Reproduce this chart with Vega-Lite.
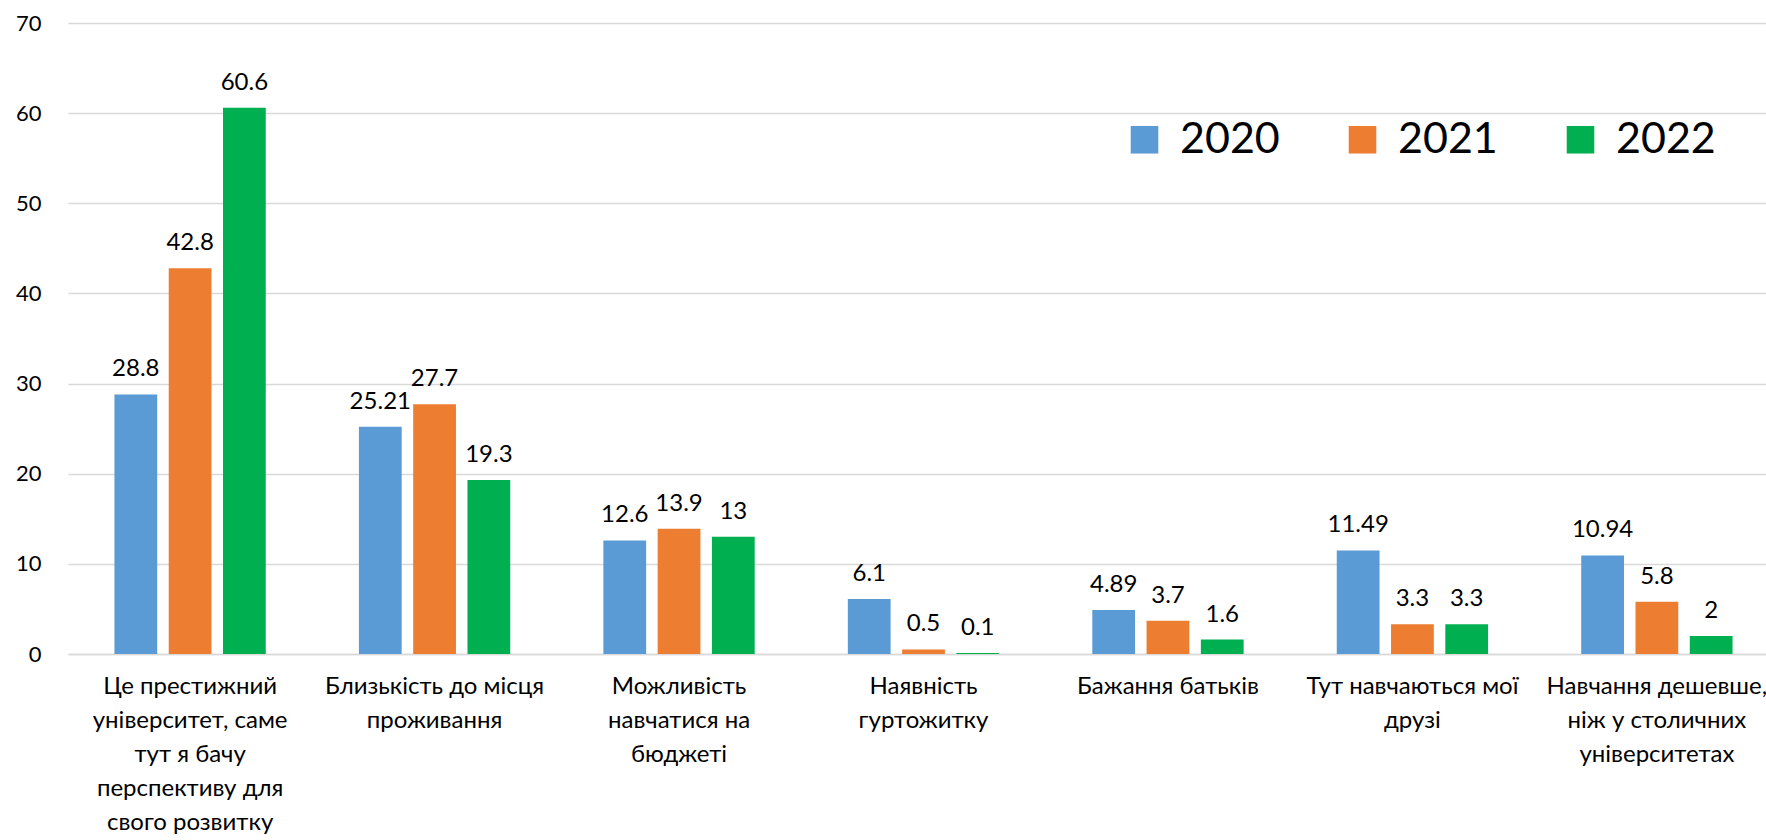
{
  "$schema": "https://vega.github.io/schema/vega-lite/v6.json",
  "width": 1698,
  "height": 631,
  "autosize": {"type": "none"},
  "padding": {"left": 68, "top": 23, "right": 0, "bottom": 186},
  "background": "white",
  "config": {"view": {"stroke": null}, "font": "Lato"},
  "data": {
    "values": [
      {"category": "Це престижний|університет, саме|тут я бачу|перспективу для|свого розвитку", "year": "2020", "value": 28.8},
      {"category": "Це престижний|університет, саме|тут я бачу|перспективу для|свого розвитку", "year": "2021", "value": 42.8},
      {"category": "Це престижний|університет, саме|тут я бачу|перспективу для|свого розвитку", "year": "2022", "value": 60.6},
      {"category": "Близькість до місця|проживання", "year": "2020", "value": 25.21},
      {"category": "Близькість до місця|проживання", "year": "2021", "value": 27.7},
      {"category": "Близькість до місця|проживання", "year": "2022", "value": 19.3},
      {"category": "Можливість|навчатися на|бюджеті", "year": "2020", "value": 12.6},
      {"category": "Можливість|навчатися на|бюджеті", "year": "2021", "value": 13.9},
      {"category": "Можливість|навчатися на|бюджеті", "year": "2022", "value": 13},
      {"category": "Наявність|гуртожитку", "year": "2020", "value": 6.1},
      {"category": "Наявність|гуртожитку", "year": "2021", "value": 0.5},
      {"category": "Наявність|гуртожитку", "year": "2022", "value": 0.1},
      {"category": "Бажання батьків", "year": "2020", "value": 4.89},
      {"category": "Бажання батьків", "year": "2021", "value": 3.7},
      {"category": "Бажання батьків", "year": "2022", "value": 1.6},
      {"category": "Тут навчаються мої|друзі", "year": "2020", "value": 11.49},
      {"category": "Тут навчаються мої|друзі", "year": "2021", "value": 3.3},
      {"category": "Тут навчаються мої|друзі", "year": "2022", "value": 3.3},
      {"category": "Навчання дешевше,|ніж у столичних|університетах", "year": "2020", "value": 10.94},
      {"category": "Навчання дешевше,|ніж у столичних|університетах", "year": "2021", "value": 5.8},
      {"category": "Навчання дешевше,|ніж у столичних|університетах", "year": "2022", "value": 2}
    ]
  },
  "encoding": {
    "x": {
      "field": "category",
      "type": "nominal",
      "sort": null,
      "scale": {"range": [0, 1711], "paddingInner": 0.381, "paddingOuter": 0.19},
      "axis": {
        "title": null,
        "ticks": false,
        "domainColor": "#d9d9d9",
        "domainWidth": 1.5,
        "labelFontSize": 24,
        "labelLineHeight": 34,
        "labelPadding": 20,
        "labelAngle": 0,
        "labelLimit": 500,
        "labelColor": "black",
        "labelExpr": "split(datum.label, '|')"
      }
    },
    "xOffset": {
      "field": "year",
      "type": "nominal",
      "scale": {"paddingInner": 0.212, "paddingOuter": 0}
    },
    "y": {
      "field": "value",
      "type": "quantitative",
      "scale": {"domain": [0, 70]},
      "axis": {
        "title": null,
        "values": [0, 10, 20, 30, 40, 50, 60, 70],
        "domain": false,
        "ticks": false,
        "labelFontSize": 22,
        "labelPadding": 27,
        "labelColor": "black",
        "gridColor": "#d9d9d9",
        "gridWidth": 1.5
      }
    }
  },
  "layer": [
    {
      "mark": {"type": "bar"},
      "encoding": {
        "color": {
          "field": "year",
          "type": "nominal",
          "scale": {"domain": ["2020", "2021", "2022"], "range": ["#5B9BD5", "#ED7D31", "#00B050"]},
          "legend": {
            "orient": "none",
            "legendX": 1055,
            "legendY": 95,
            "direction": "horizontal",
            "title": null,
            "symbolType": "square",
            "symbolSize": 760,
            "symbolStrokeWidth": 0,
            "symbolOpacity": 1,
            "labelFontSize": 43,
            "labelOffset": 14,
            "columnPadding": 61,
            "padding": 0,
            "labelColor": "black"
          }
        }
      }
    },
    {
      "mark": {"type": "text", "baseline": "alphabetic", "dy": -18, "fontSize": 24, "color": "black"},
      "encoding": {"text": {"field": "value", "type": "nominal"}}
    }
  ]
}
